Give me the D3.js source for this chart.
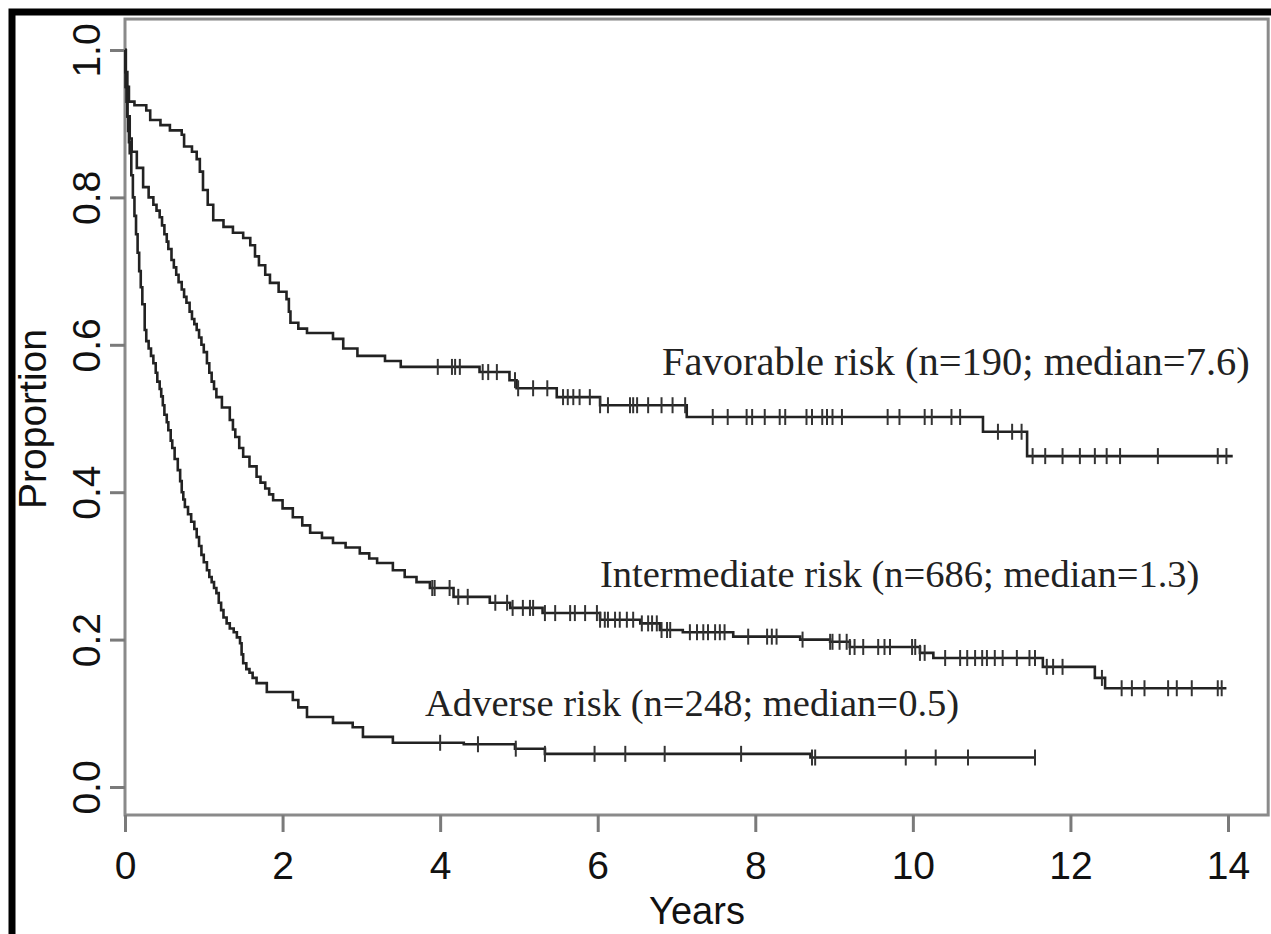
<!DOCTYPE html>
<html>
<head>
<meta charset="utf-8">
<script src="https://cdn.jsdelivr.net/npm/d3@7"></script>
<style>
  body { margin: 0; background: #fff; }
  svg { display: block; }
</style>
</head>
<body>
<div id="km-plot"></div>
<script>
// Kaplan-Meier step points: [years, proportion]
var favorable = [
  [0, 1.0], [0.01, 0.97], [0.03, 0.95], [0.05, 0.93], [0.12, 0.925], [0.27, 0.918],
  [0.32, 0.905], [0.45, 0.898], [0.57, 0.891], [0.72, 0.885], [0.75, 0.869], [0.85, 0.862],
  [0.91, 0.852], [0.95, 0.835], [0.99, 0.81], [1.05, 0.79], [1.12, 0.769], [1.25, 0.76],
  [1.37, 0.752], [1.5, 0.745], [1.59, 0.735], [1.65, 0.72], [1.7, 0.708], [1.78, 0.695],
  [1.84, 0.684], [1.95, 0.672], [2.05, 0.662], [2.08, 0.645], [2.1, 0.63], [2.2, 0.622],
  [2.31, 0.616], [2.64, 0.608], [2.77, 0.595], [2.95, 0.585], [3.3, 0.578], [3.5, 0.57],
  [4.5, 0.563], [4.88, 0.552], [4.97, 0.541], [5.48, 0.529], [6.03, 0.518], [7.13, 0.502],
  [10.89, 0.482], [11.45, 0.449], [14.06, 0.449]
];
var intermediate = [
  [0, 1.0], [0.01, 0.95], [0.03, 0.91], [0.06, 0.88], [0.085, 0.862], [0.15, 0.84],
  [0.23, 0.814], [0.3, 0.8], [0.36, 0.79], [0.4, 0.782], [0.44, 0.773], [0.47, 0.762],
  [0.5, 0.75], [0.53, 0.74], [0.55, 0.73], [0.59, 0.715], [0.62, 0.705], [0.65, 0.695],
  [0.68, 0.685], [0.72, 0.675], [0.75, 0.665], [0.78, 0.657], [0.82, 0.645], [0.85, 0.635],
  [0.88, 0.628], [0.91, 0.62], [0.94, 0.61], [0.97, 0.6], [1.0, 0.59], [1.04, 0.575],
  [1.07, 0.562], [1.1, 0.55], [1.13, 0.54], [1.16, 0.529], [1.23, 0.515], [1.33, 0.498],
  [1.37, 0.485], [1.4, 0.475], [1.45, 0.46], [1.5, 0.448], [1.58, 0.435], [1.67, 0.421],
  [1.72, 0.413], [1.78, 0.405], [1.83, 0.397], [1.88, 0.389], [2.0, 0.378], [2.13, 0.366],
  [2.25, 0.355], [2.35, 0.345], [2.5, 0.338], [2.64, 0.331], [2.8, 0.325], [2.98, 0.317],
  [3.1, 0.31], [3.2, 0.304], [3.4, 0.294], [3.55, 0.285], [3.7, 0.278], [3.87, 0.27],
  [4.17, 0.258], [4.63, 0.25], [4.89, 0.243], [5.3, 0.236], [6.03, 0.227], [6.54, 0.222],
  [6.79, 0.213], [7.08, 0.21], [7.72, 0.204], [8.57, 0.2], [8.95, 0.197], [9.2, 0.19],
  [10.09, 0.182], [10.26, 0.175], [11.65, 0.163], [12.31, 0.148], [12.44, 0.134], [13.98, 0.134]
];
var adverse = [
  [0, 1.0], [0.005, 0.97], [0.01, 0.95], [0.02, 0.93], [0.03, 0.91], [0.04, 0.89],
  [0.05, 0.875], [0.06, 0.86], [0.08, 0.83], [0.1, 0.8], [0.12, 0.775], [0.14, 0.75],
  [0.16, 0.725], [0.18, 0.7], [0.2, 0.678], [0.22, 0.655], [0.25, 0.62], [0.27, 0.605],
  [0.3, 0.595], [0.33, 0.585], [0.36, 0.575], [0.39, 0.562], [0.41, 0.55], [0.44, 0.54],
  [0.46, 0.53], [0.48, 0.518], [0.5, 0.505], [0.53, 0.495], [0.55, 0.484], [0.58, 0.47],
  [0.6, 0.46], [0.63, 0.445], [0.67, 0.43], [0.7, 0.415], [0.72, 0.4], [0.74, 0.39],
  [0.76, 0.38], [0.8, 0.37], [0.84, 0.36], [0.88, 0.35], [0.91, 0.339], [0.94, 0.327],
  [0.97, 0.315], [1.0, 0.305], [1.04, 0.294], [1.07, 0.285], [1.1, 0.278], [1.13, 0.27],
  [1.16, 0.263], [1.19, 0.25], [1.22, 0.24], [1.25, 0.23], [1.29, 0.222], [1.33, 0.215],
  [1.38, 0.21], [1.42, 0.203], [1.46, 0.195], [1.48, 0.18], [1.5, 0.168], [1.54, 0.16],
  [1.58, 0.155], [1.62, 0.148], [1.67, 0.141], [1.8, 0.129], [2.13, 0.118], [2.2, 0.108],
  [2.31, 0.095], [2.64, 0.087], [2.89, 0.081], [3.02, 0.068], [3.4, 0.06], [4.3, 0.058],
  [4.95, 0.052], [5.33, 0.045], [8.7, 0.04], [11.55, 0.04]
];

// censored observations (years)
var favorableCensor = [3.97, 4.15, 4.19, 4.25, 4.54, 4.61, 4.72, 4.95, 4.99, 5.18, 5.36, 5.56,
  5.62, 5.69, 5.77, 5.9, 6.03, 6.13, 6.41, 6.45, 6.5, 6.64, 6.81, 6.95, 7.11, 7.46, 7.65,
  7.89, 7.96, 8.12, 8.31, 8.38, 8.65, 8.72, 8.85, 8.91, 8.98, 9.1, 9.68, 9.83, 10.15, 10.24,
  10.49, 10.6, 11.08, 11.26, 11.38, 11.52, 11.68, 11.9, 12.12, 12.31, 12.46, 12.63, 13.11,
  13.87, 13.98];
var intermediateCensor = [3.9, 3.93, 4.12, 4.23, 4.35, 4.7, 4.85, 4.92, 5.05, 5.14, 5.18, 5.33,
  5.46, 5.65, 5.71, 5.84, 5.99, 6.03, 6.09, 6.13, 6.22, 6.28, 6.37, 6.45, 6.56, 6.64, 6.69,
  6.75, 6.81, 6.88, 6.92, 7.17, 7.26, 7.34, 7.4, 7.49, 7.55, 7.61, 7.91, 8.15, 8.21, 8.27,
  8.6, 8.95, 8.98, 9.07, 9.16, 9.2, 9.26, 9.37, 9.56, 9.64, 9.71, 9.99, 10.03, 10.09, 10.15,
  10.41, 10.6, 10.69, 10.79, 10.88, 10.94, 11.04, 11.14, 11.32, 11.48, 11.55, 11.7, 11.78,
  11.9, 12.4, 12.65, 12.78, 12.94, 13.24, 13.35, 13.54, 13.87, 13.92];
var adverseCensor = [4.0, 4.48, 4.96, 5.33, 5.96, 6.35, 6.85, 7.82, 8.72, 8.76, 9.91, 10.29,
  10.7, 11.55];

var seriesLabels = [
  "Favorable risk (n=190; median=7.6)",
  "Intermediate risk (n=686; median=1.3)",
  "Adverse risk (n=248; median=0.5)"
];
var xTicks = [0, 2, 4, 6, 8, 10, 12, 14];
var yTicks = [0.0, 0.2, 0.4, 0.6, 0.8, 1.0];

var W = 1271, H = 934;

var svg = d3.select("#km-plot")
  .append("svg")
  .attr("width", W)
  .attr("height", H);

svg.append("rect").attr("width", W).attr("height", H).attr("fill", "#fff");

// scales
var x = d3.scaleLinear().domain([0, 14]).range([125, 1228]);
var y = d3.scaleLinear().domain([0, 1]).range([787, 50]);

// black frame (top and left edges of the scanned figure)
svg.append("path")
  .attr("d", "M12," + H + "V12H" + W)
  .attr("fill", "none")
  .attr("stroke", "#000")
  .attr("stroke-width", 7);

// plot box
var boxLeft = x(0), boxRight = x(14.51), boxTop = y(1.042), boxBottom = y(-0.038);
svg.append("rect")
  .attr("x", boxLeft)
  .attr("y", boxTop)
  .attr("width", boxRight - boxLeft)
  .attr("height", boxBottom - boxTop)
  .attr("fill", "none")
  .attr("stroke", "#8a8a8a")
  .attr("stroke-width", 3);

// axes
var xAxis = d3.axisBottom(x).tickValues(xTicks).tickSize(17).tickFormat(d3.format("d"));
var yAxis = d3.axisLeft(y).tickValues(yTicks).tickSize(15).tickFormat(d3.format(".1f"));

var gx = svg.append("g")
  .attr("transform", "translate(0," + boxBottom + ")")
  .call(xAxis);
var gy = svg.append("g")
  .attr("transform", "translate(" + boxLeft + ",0)")
  .call(yAxis);

[gx, gy].forEach(function(g) {
  g.select(".domain").remove();
  g.selectAll(".tick line").attr("stroke", "#7a7a7a").attr("stroke-width", 3);
  g.selectAll(".tick text")
    .attr("fill", "#111")
    .style("font-family", "'Liberation Sans', Arial, sans-serif")
    .style("font-size", "39px");
});

gx.selectAll(".tick text").attr("y", 64).attr("dy", 0);
gy.selectAll(".tick text")
  .attr("transform", "rotate(-90)")
  .attr("text-anchor", "middle")
  .attr("x", 0)
  .attr("y", -25)
  .attr("dy", 0);

// axis titles
svg.append("text")
  .attr("x", 697)
  .attr("y", 924)
  .attr("text-anchor", "middle")
  .attr("fill", "#111")
  .style("font-family", "'Liberation Sans', Arial, sans-serif")
  .style("font-size", "38px")
  .text("Years");

svg.append("text")
  .attr("transform", "translate(46,419) rotate(-90)")
  .attr("text-anchor", "middle")
  .attr("fill", "#111")
  .style("font-family", "'Liberation Sans', Arial, sans-serif")
  .style("font-size", "39px")
  .text("Proportion");

// curves
var line = d3.line()
  .x(function(d) { return x(d[0]); })
  .y(function(d) { return y(d[1]); })
  .curve(d3.curveStepAfter);

var curves = [
  { steps: favorable, censor: favorableCensor },
  { steps: intermediate, censor: intermediateCensor },
  { steps: adverse, censor: adverseCensor }
];

function survAt(steps, t) {
  var s = steps[0][1];
  steps.forEach(function(d) { if (d[0] <= t) s = d[1]; });
  return s;
}

curves.forEach(function(c) {
  svg.append("path")
    .datum(c.steps)
    .attr("d", line)
    .attr("fill", "none")
    .attr("stroke", "#222")
    .attr("stroke-width", 2.6);

  svg.append("g")
    .selectAll("line")
    .data(c.censor)
    .enter()
    .append("line")
    .attr("x1", function(t) { return x(t); })
    .attr("x2", function(t) { return x(t); })
    .attr("y1", function(t) { return y(survAt(c.steps, t)) - 8; })
    .attr("y2", function(t) { return y(survAt(c.steps, t)) + 8; })
    .attr("stroke", "#333")
    .attr("stroke-width", 2);
});

// curve labels
var labelPos = [
  { x: 662, y: 375, size: 40.5 },
  { x: 600, y: 587, size: 38.5 },
  { x: 425, y: 716, size: 38.6 }
];
svg.append("g")
  .selectAll("text")
  .data(seriesLabels)
  .enter()
  .append("text")
  .attr("x", function(d, i) { return labelPos[i].x; })
  .attr("y", function(d, i) { return labelPos[i].y; })
  .attr("fill", "#222")
  .style("font-family", "'Liberation Serif', 'Times New Roman', serif")
  .style("font-size", function(d, i) { return labelPos[i].size + "px"; })
  .text(function(d) { return d; });
</script>
</body>
</html>
